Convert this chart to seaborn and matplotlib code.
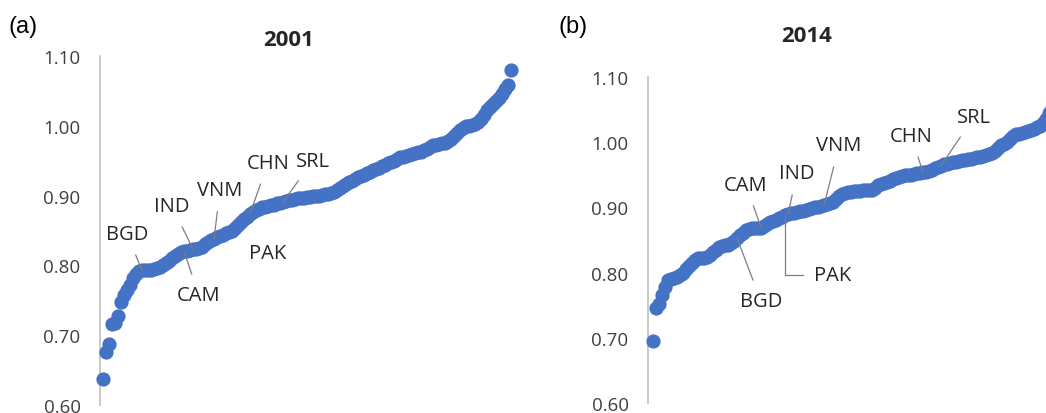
import numpy as np
import pandas as pd
import matplotlib
matplotlib.use("Agg")
import matplotlib.pyplot as plt
import seaborn as sns
from matplotlib.ticker import FormatStrFormatter

#%% data (sorted index values)
vals_2001 = [0.637, 0.676, 0.688, 0.716, 0.717, 0.728, 0.748, 0.758, 0.765, 0.772,
             0.782, 0.788, 0.792, 0.793, 0.794, 0.794, 0.794, 0.795, 0.796, 0.798,
             0.801, 0.804, 0.807, 0.810, 0.813, 0.817, 0.819, 0.820, 0.821, 0.822,
             0.823, 0.824, 0.825, 0.827, 0.830, 0.833, 0.836, 0.838, 0.840, 0.842,
             0.844, 0.846, 0.848, 0.850, 0.854, 0.858, 0.862, 0.866, 0.870, 0.874,
             0.877, 0.879, 0.881, 0.883, 0.884, 0.885, 0.886, 0.887, 0.889, 0.890,
             0.891, 0.892, 0.893, 0.894, 0.895, 0.896, 0.897, 0.897, 0.898, 0.898,
             0.899, 0.899, 0.900, 0.901, 0.902, 0.903, 0.904, 0.905, 0.908, 0.911,
             0.914, 0.917, 0.919, 0.921, 0.924, 0.926, 0.928, 0.930, 0.932, 0.934,
             0.936, 0.938, 0.940, 0.942, 0.944, 0.946, 0.948, 0.950, 0.953, 0.955,
             0.956, 0.957, 0.958, 0.960, 0.961, 0.962, 0.963, 0.965, 0.967, 0.970,
             0.972, 0.973, 0.974, 0.975, 0.976, 0.978, 0.981, 0.985, 0.990, 0.994,
             0.997, 0.999, 1.000, 1.001, 1.003, 1.005, 1.010, 1.016, 1.022, 1.027,
             1.031, 1.036, 1.040, 1.046, 1.053, 1.058, 1.080]

vals_2014 = [0.695, 0.745, 0.752, 0.765, 0.778, 0.789, 0.790, 0.791, 0.793, 0.796,
             0.800, 0.805, 0.810, 0.815, 0.820, 0.822, 0.822, 0.823, 0.824, 0.827,
             0.831, 0.835, 0.839, 0.841, 0.842, 0.843, 0.845, 0.849, 0.853, 0.857,
             0.861, 0.865, 0.867, 0.868, 0.868, 0.868, 0.869, 0.871, 0.874, 0.877,
             0.879, 0.881, 0.883, 0.886, 0.888, 0.890, 0.891, 0.892, 0.893, 0.894,
             0.895, 0.896, 0.897, 0.899, 0.900, 0.901, 0.902, 0.903, 0.905, 0.907,
             0.909, 0.913, 0.917, 0.920, 0.922, 0.923, 0.924, 0.925, 0.925, 0.925,
             0.926, 0.926, 0.926, 0.927, 0.930, 0.934, 0.936, 0.938, 0.939, 0.941,
             0.943, 0.945, 0.947, 0.948, 0.949, 0.950, 0.950, 0.951, 0.952, 0.953,
             0.954, 0.955, 0.956, 0.958, 0.960, 0.962, 0.964, 0.966, 0.967, 0.968,
             0.969, 0.970, 0.971, 0.972, 0.973, 0.974, 0.975, 0.976, 0.977, 0.978,
             0.979, 0.980, 0.982, 0.984, 0.987, 0.991, 0.995, 0.998, 1.001, 1.005,
             1.009, 1.012, 1.013, 1.014, 1.015, 1.017, 1.019, 1.021, 1.023, 1.025,
             1.030, 1.036, 1.045, 1.052]

countries = ['BGD', 'CAM', 'IND', 'VNM', 'CHN', 'SRL', 'PAK']
rank_2001 = [13, 27, 30, 37, 49, 60, 55]
rank_2014 = [28, 36, 45, 57, 90, 96, 44]

# label text positions (rank, value) -- layout only
txt_2001 = {'BGD': (8, 0.845), 'CAM': (32, 0.757), 'IND': (23, 0.885), 'VNM': (39, 0.908),
            'CHN': (55, 0.947), 'SRL': (70, 0.950), 'PAK': (55, 0.818)}
txt_2014 = {'BGD': (36, 0.756), 'CAM': (31, 0.935), 'IND': (48, 0.952), 'VNM': (62, 0.995),
            'CHN': (86, 1.010), 'SRL': (107, 1.039), 'PAK': (60, 0.797)}

blue = '#4472C4'

#%% style
sns.set_theme(style='white')
plt.rcParams['font.family'] = ['Open Sans', 'DejaVu Sans']

fig = plt.figure(figsize=(10.46, 4.14), dpi=100)
ax1 = fig.add_axes([100/1046, 8/414, 415/1046, 349/414])
ax2 = fig.add_axes([648/1046, 10/414, 398/1046, 326/414])

def panel(ax, vals, ranks, txt, xlim, pak_elbow):
    df = pd.DataFrame({'rank': np.arange(len(vals)), 'value': vals})
    sns.scatterplot(data=df, x='rank', y='value', ax=ax, color=blue, s=105,
                    linewidth=0, clip_on=False, zorder=3)
    ax.set_xlim(*xlim)
    ax.set_ylim(0.60, 1.10)
    ax.set_yticks(np.arange(0.60, 1.101, 0.10))
    ax.yaxis.set_major_formatter(FormatStrFormatter('%.2f'))
    ax.set_xticks([])
    ax.set_xlabel('')
    ax.set_ylabel('')
    for s in ['top', 'right', 'bottom']:
        ax.spines[s].set_visible(False)
    ax.spines['left'].set_color('#BFBFBF')
    ax.spines['left'].set_linewidth(1.2)
    ax.tick_params(axis='y', length=0, pad=14, labelsize=13.5, labelcolor='#404040')
    for c, r in zip(countries, ranks):
        tx, ty = txt[c]
        if c == 'PAK' and not pak_elbow:
            ax.text(tx, ty, c, ha='center', va='center', fontsize=14.5, color='#262626')
            continue
        conn = 'angle,angleA=0,angleB=90,rad=0' if c == 'PAK' else 'arc3'
        ax.annotate(c, xy=(r, vals[r]), xytext=(tx, ty), ha='center', va='center',
                    fontsize=14.5, color='#262626',
                    arrowprops=dict(arrowstyle='-', color='#7F7F7F', lw=0.9,
                                    shrinkA=6, shrinkB=0, connectionstyle=conn),
                    zorder=4)

panel(ax1, vals_2001, rank_2001, txt_2001, (-1, 137.3), False)
panel(ax2, vals_2014, rank_2014, txt_2014, (-1.67, 131), True)

fig.text(289/1046, 1 - 41/414, '2001', ha='center', va='center', fontsize=16,
         fontweight='bold', color='#262626')
fig.text(807/1046, 1 - 37/414, '2014', ha='center', va='center', fontsize=16,
         fontweight='bold', color='#262626')
fig.text(8/1046, 1 - 27/414, '(a)', ha='left', va='center', fontsize=17,
         family='Liberation Sans', color='black')
fig.text(559/1046, 1 - 27/414, '(b)', ha='left', va='center', fontsize=17,
         family='Liberation Sans', color='black')

fig.savefig('out.png', dpi=100)
